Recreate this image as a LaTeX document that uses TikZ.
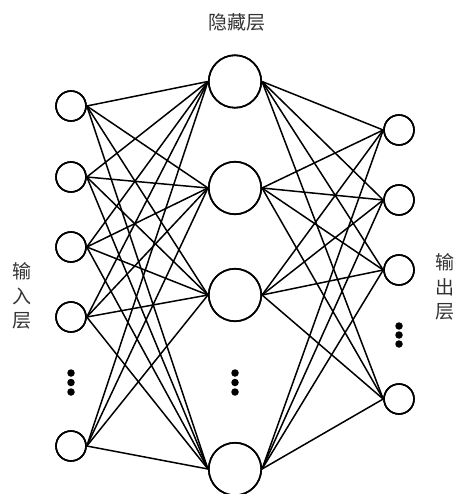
\documentclass[tikz,border=0pt]{standalone}
\usepackage{fontspec}
\newfontfamily\cjk{Noto Sans CJK SC}
\begin{document}
\begin{tikzpicture}[x=1pt,y=-1pt,
  neuron/.style={circle,draw=black,line width=1.6pt,fill=white,inner sep=0pt,minimum size=30pt},
  hid/.style={neuron,minimum size=52.5pt},
  link/.style={draw=black,line width=1.5pt},
  vdot/.style={circle,fill=black,inner sep=0pt,minimum size=7.5pt},
  lab/.style={text=black!80,font=\cjk\fontsize{19}{24.5}\selectfont,inner sep=0pt,align=center}]
\useasboundingbox (0,0) rectangle (455,494);
% input layer
\node[neuron] (i1) at (71,106) {};
\node[neuron] (i2) at (71,177) {};
\node[neuron] (i3) at (71,247) {};
\node[neuron] (i4) at (71,317) {};
\node[neuron] (i5) at (71,446) {};
% hidden layer
\node[hid] (h1) at (235,81.5) {};
\node[hid] (h2) at (235,188) {};
\node[hid] (h3) at (235,295) {};
\node[hid] (h4) at (235,469) {};
% output layer
\node[neuron] (o1) at (399,130) {};
\node[neuron] (o2) at (399,200) {};
\node[neuron] (o3) at (399,270) {};
\node[neuron] (o4) at (399,399) {};
% connections
\foreach \i in {1,...,5}{
  \foreach \h in {1,...,4}{
    \draw[link] (i\i.east) -- (h\h.west);
  }
}
\foreach \h in {1,...,4}{
  \foreach \o in {1,...,4}{
    \draw[link] (h\h.east) -- (o\o.west);
  }
}
% redraw circles on top
\foreach \n in {i1,i2,i3,i4,i5,o1,o2,o3,o4}{
  \draw[line width=1.6pt] (\n) circle (15pt);
}
\foreach \n in {h1,h2,h3,h4}{
  \draw[line width=1.6pt] (\n) circle (26.25pt);
}
% ellipsis dots
\node[vdot] (di1) at (71,373) {};
\node[vdot] (di2) at (71,382.5) {};
\node[vdot] (di3) at (71,392) {};
\node[vdot] (dh1) at (235,373) {};
\node[vdot] (dh2) at (235,382.5) {};
\node[vdot] (dh3) at (235,392) {};
\node[vdot] (do1) at (399,326) {};
\node[vdot] (do2) at (399,335) {};
\node[vdot] (do3) at (399,344) {};
% labels
\node[lab] (lh) at (237,22) {隐藏层};
\node[lab] (li) at (22,296) {输\\入\\层};
\node[lab] (lo) at (445,287) {输\\出\\层};
\end{tikzpicture}
\end{document}
